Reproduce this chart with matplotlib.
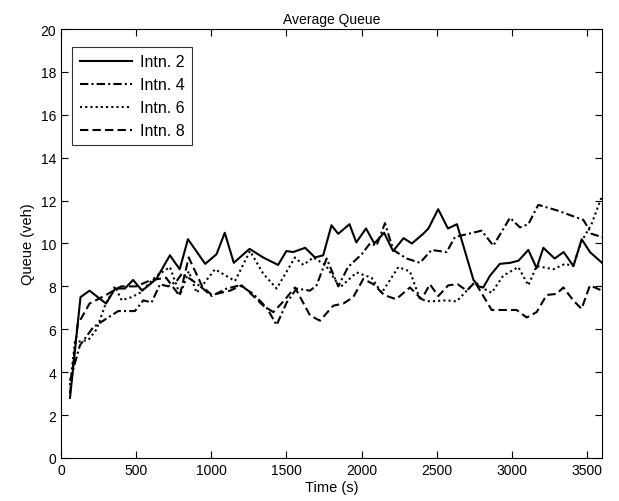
import numpy as np
import matplotlib
matplotlib.use('Agg')
import matplotlib.pyplot as plt

plt.rcParams['font.family'] = ['Liberation Sans', 'DejaVu Sans']

# Intn. 2 (solid)
t2 = [60, 130, 190, 300, 360, 425, 480, 540, 635, 725, 790, 845, 960, 1035, 1090, 1150, 1255, 1345, 1445,
      1500, 1545, 1625, 1690, 1745, 1800, 1845, 1920, 1965, 2030, 2085, 2150, 2210, 2280, 2335, 2410, 2445,
      2510, 2575, 2635, 2745, 2780, 2810, 2855, 2920, 2990, 3045, 3110, 3165, 3210, 3285, 3345, 3410, 3465,
      3520, 3600]
q2 = [2.8, 7.5, 7.8, 7.2, 7.9, 7.9, 8.3, 7.8, 8.35, 9.45, 8.8, 10.2, 9.05, 9.5, 10.5, 9.1, 9.75, 9.35, 9.0,
      9.65, 9.6, 9.8, 9.35, 9.45, 10.85, 10.45, 10.9, 10.05, 10.7, 10.0, 10.5, 9.65, 10.25, 10.0, 10.45, 10.7,
      11.6, 10.7, 10.9, 8.3, 8.0, 7.95, 8.5, 9.05, 9.1, 9.2, 9.7, 8.85, 9.8, 9.3, 9.6, 8.95, 10.2,
      9.6, 9.1]

# Intn. 4 (dash-dot)
t4 = [60, 126, 215, 281, 381, 492, 548, 603, 659, 714, 770, 805, 870, 936, 1003, 1103, 1191, 1280, 1369,
      1435, 1502, 1568, 1657, 1701, 1768, 1845, 1910, 2001, 2056, 2100, 2156, 2211, 2300, 2389, 2466, 2566,
      2622, 2710, 2799, 2877, 2988, 3054, 3110, 3176, 3298, 3476, 3531, 3600]
q4 = [3.6, 5.25, 6.1, 6.4, 6.85, 6.85, 7.35, 7.25, 8.1, 8.0, 8.25, 8.6, 8.3, 7.95, 7.55, 7.9, 8.05, 7.65, 7.0,
      6.2, 7.25, 7.9, 7.8, 8.05, 9.3, 8.0, 8.9, 9.5, 10.0, 9.9, 10.95, 9.7, 9.3, 9.1, 9.7, 9.6,
      10.3, 10.45, 10.6, 9.9, 11.2, 10.75, 10.9, 11.8, 11.55, 11.1, 10.45, 10.3]

# Intn. 6 (dotted)
t6 = [60, 93, 182, 237, 293, 359, 404, 470, 526, 637, 725, 792, 850, 903, 1025, 1158, 1258, 1345, 1435,
      1557, 1613, 1679, 1760, 1857, 1967, 2067, 2134, 2245, 2322, 2389, 2455, 2566, 2633, 2700, 2755, 2799,
      2866, 2943, 3043, 3110, 3165, 3276, 3354, 3409, 3464, 3530, 3600]
q6 = [3.4, 5.4, 5.5, 6.0, 7.1, 8.0, 7.35, 7.5, 7.7, 8.5, 8.9, 7.6, 8.7, 7.7, 8.8, 8.25, 9.65, 8.6, 7.9,
      9.35, 9.0, 9.35, 9.0, 7.95, 8.65, 8.4, 7.7, 8.9, 8.7, 7.4, 7.3, 7.35, 7.3, 7.8, 8.2, 7.95,
      7.7, 8.5, 8.9, 8.05, 8.95, 8.8, 9.05, 8.95, 10.1, 10.9, 12.2]

# Intn. 8 (dashed)
t8 = [60, 110, 190, 300, 400, 500, 600, 700, 790, 850, 940, 1003, 1125, 1202, 1280, 1346, 1413, 1480, 1557,
      1657, 1723, 1812, 1879, 1945, 2012, 2080, 2150, 2230, 2322, 2400, 2455, 2511, 2577, 2640, 2700, 2755,
      2866, 3032, 3099, 3165, 3232, 3298, 3343, 3409, 3464, 3520, 3600]
q8 = [3.0, 6.2, 7.2, 7.6, 8.0, 8.0, 8.3, 8.4, 7.55, 9.35, 8.0, 7.6, 7.8, 8.05, 7.55, 7.1, 6.8, 7.3, 7.95,
      6.65, 6.4, 7.1, 7.2, 7.5, 8.35, 8.1, 7.6, 7.4, 7.95, 7.4, 8.1, 7.55, 8.05, 8.1, 7.8, 8.2,
      6.9, 6.9, 6.55, 6.8, 7.6, 7.65, 7.95, 7.35, 6.95, 8.05, 7.8]

fig = plt.figure(figsize=(6.19, 5.02), dpi=100)
ax = fig.add_axes([0.0985, 0.0857, 0.874, 0.8545])

ax.plot(t2, q2, color='k', linestyle='-', linewidth=1.5, label='Intn. 2')
ax.plot(t4, q4, color='k', linestyle=(0, (4, 1.5, 1, 1.5)), linewidth=1.5, label='Intn. 4')
ax.plot(t6, q6, color='k', linestyle=(0, (1, 1.5)), linewidth=1.5, label='Intn. 6')
ax.plot(t8, q8, color='k', linestyle=(0, (4, 2)), linewidth=1.5, label='Intn. 8')

ax.set_xlim(0, 3600)
ax.set_ylim(0, 20)
ax.set_xticks(np.arange(0, 3501, 500))
ax.set_yticks(np.arange(0, 21, 2))
ax.tick_params(direction='in', top=True, right=True, labelsize=10, length=5)
for s in ax.spines.values():
    s.set_linewidth(0.8)

ax.set_title('Average Queue', fontsize=10, pad=4)
ax.set_xlabel('Time (s)', fontsize=10.5, labelpad=2)
ax.set_ylabel('Queue (veh)', fontsize=10.5, labelpad=4)

leg = ax.legend(loc='upper left', bbox_to_anchor=(0.021, 0.958), borderaxespad=0,
                fontsize=11.5, fancybox=False, edgecolor='k',
                handlelength=3.3, labelspacing=0.5, handletextpad=0.5, borderpad=0.45)
leg.get_frame().set_linewidth(0.8)

fig.savefig('out.png', dpi=100, facecolor='white')
